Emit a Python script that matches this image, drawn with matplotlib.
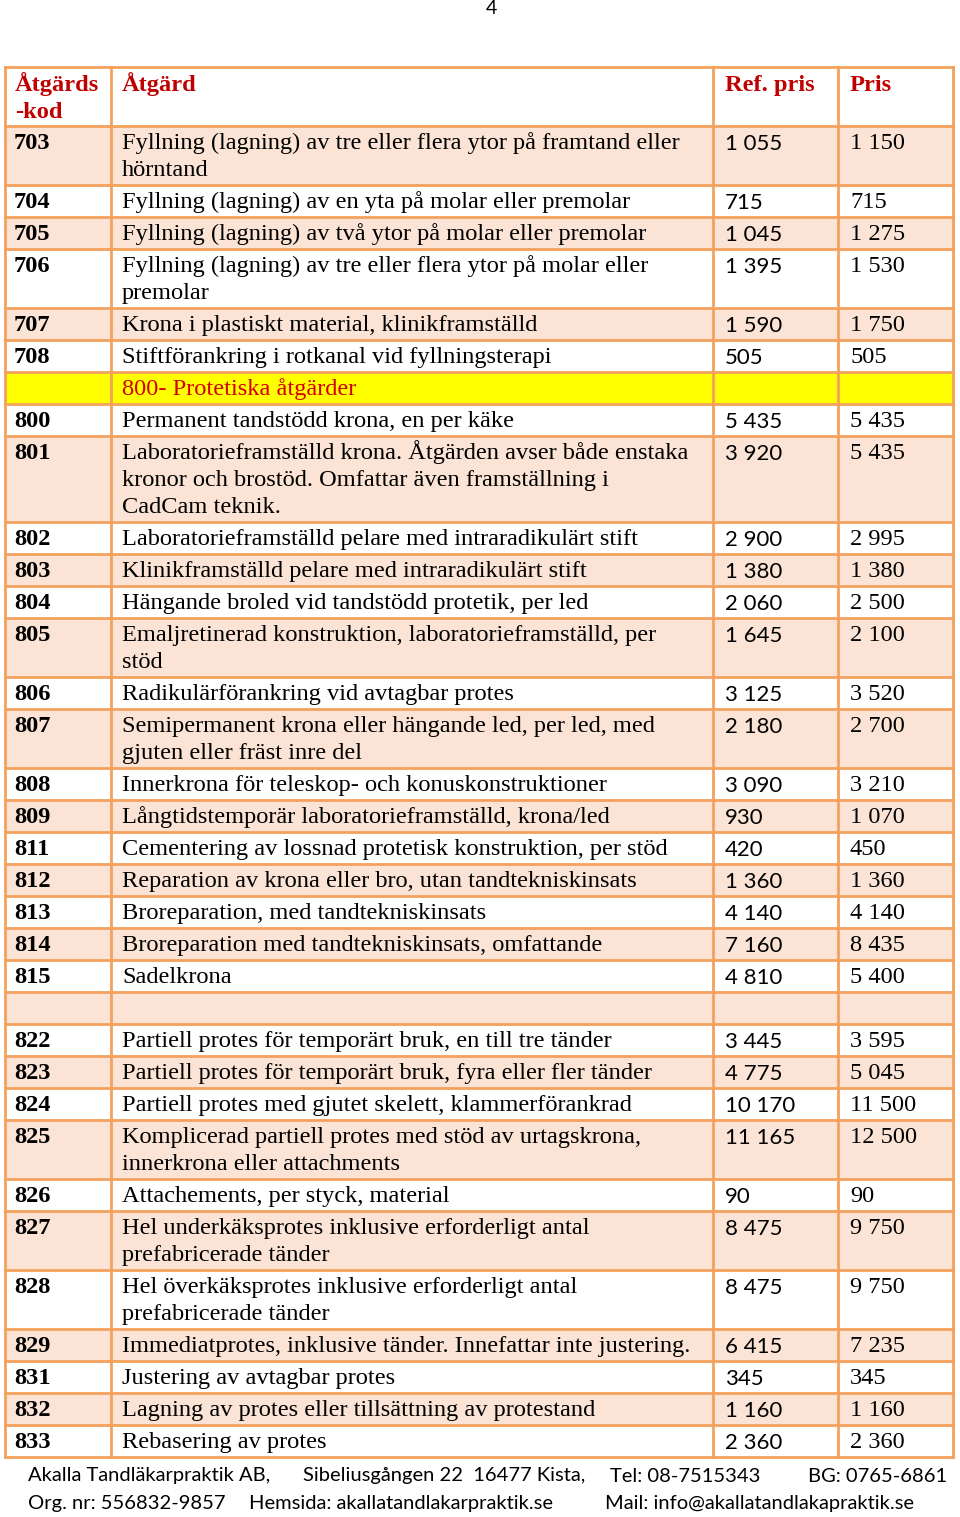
import matplotlib
matplotlib.use("Agg")
import matplotlib.pyplot as plt
from matplotlib.patches import Rectangle

# table content
codes = ["Åtgärds\n-kod", "703", "704", "705", "706", "707", "708", "",
         "800", "801", "802", "803", "804", "805", "806", "807", "808", "809",
         "811", "812", "813", "814", "815", "", "822", "823", "824", "825",
         "826", "827", "828", "829", "831", "832", "833"]
descs = [
    "Åtgärd",
    "Fyllning (lagning) av tre eller flera ytor på framtand eller\nhörntand",
    "Fyllning (lagning) av en yta på molar eller premolar",
    "Fyllning (lagning) av två ytor på molar eller premolar",
    "Fyllning (lagning) av tre eller flera ytor på molar eller\npremolar",
    "Krona i plastiskt material, klinikframställd",
    "Stiftförankring i rotkanal vid fyllningsterapi",
    "800- Protetiska åtgärder",
    "Permanent tandstödd krona, en per käke",
    "Laboratorieframställd krona. Åtgärden avser både enstaka\nkronor och brostöd. Omfattar även framställning i\nCadCam teknik.",
    "Laboratorieframställd pelare med intraradikulärt stift",
    "Klinikframställd pelare med intraradikulärt stift",
    "Hängande broled vid tandstödd protetik, per led",
    "Emaljretinerad konstruktion, laboratorieframställd, per\nstöd",
    "Radikulärförankring vid avtagbar protes",
    "Semipermanent krona eller hängande led, per led, med\ngjuten eller fräst inre del",
    "Innerkrona för teleskop- och konuskonstruktioner",
    "Långtidstemporär laboratorieframställd, krona/led",
    "Cementering av lossnad protetisk konstruktion, per stöd",
    "Reparation av krona eller bro, utan tandtekniskinsats",
    "Broreparation, med tandtekniskinsats",
    "Broreparation med tandtekniskinsats, omfattande",
    "Sadelkrona",
    "",
    "Partiell protes för temporärt bruk, en till tre tänder",
    "Partiell protes för temporärt bruk, fyra eller fler tänder",
    "Partiell protes med gjutet skelett, klammerförankrad",
    "Komplicerad partiell protes med stöd av urtagskrona,\ninnerkrona eller attachments",
    "Attachements, per styck, material",
    "Hel underkäksprotes inklusive erforderligt antal\nprefabricerade tänder",
    "Hel överkäksprotes inklusive erforderligt antal\nprefabricerade tänder",
    "Immediatprotes, inklusive tänder. Innefattar inte justering.",
    "Justering av avtagbar protes",
    "Lagning av protes eller tillsättning av protestand",
    "Rebasering av protes",
]
ref_prices = ["Ref. pris", "1 055", "715", "1 045", "1 395", "1 590", "505", "",
              "5 435", "3 920", "2 900", "1 380", "2 060", "1 645", "3 125",
              "2 180", "3 090", "930", "420", "1 360", "4 140", "7 160",
              "4 810", "", "3 445", "4 775", "10 170", "11 165", "90",
              "8 475", "8 475", "6 415", "345", "1 160", "2 360"]
prices = ["Pris", "1 150", "715", "1 275", "1 530", "1 750", "505", "",
          "5 435", "5 435", "2 995", "1 380", "2 500", "2 100", "3 520",
          "2 700", "3 210", "1 070", "450", "1 360", "4 140", "8 435",
          "5 400", "", "3 595", "5 045", "11 500", "12 500", "90",
          "9 750", "9 750", "7 235", "345", "1 160", "2 360"]
section_row = 7

footer1 = ["Akalla Tandläkarpraktik AB,", "Sibeliusgången 22  16477 Kista,",
           "Tel: 08-7515343", "BG: 0765-6861"]
footer2 = ["Org. nr: 556832-9857", "Hemsida: akallatandlakarpraktik.se",
           "Mail: info@akallatandlakapraktik.se"]

W, H = 960, 1517
fig = plt.figure(figsize=(W / 100, H / 100), dpi=100)
ax = fig.add_axes([0, 0, 1, 1])
ax.set_xlim(0, W)
ax.set_ylim(H, 0)
ax.axis("off")

col_x = [5, 111, 713, 838, 953]
top = 67
line_h = 32
extra_h = 27
border = "#F4A15D"
shade = "#FBE4D5"
red = "#C00000"
serif = "Liberation Serif"
sans = "Lato"
fs = 17.6

y = top
row_tops = []
for i in range(len(codes)):
    n = max(codes[i].count("\n"), descs[i].count("\n")) + 1
    h = line_h + extra_h * (n - 1)
    row_tops.append(y)
    if i == section_row:
        fc = "#FFFF00"
    elif i % 2 == 1:
        fc = shade
    else:
        fc = "white"
    ax.add_patch(Rectangle((col_x[0], y), col_x[-1] - col_x[0], h,
                           facecolor=fc, edgecolor="none", zorder=1))

    def put(x, txt, base_off, **kw):
        for j, ln in enumerate(txt.split("\n")):
            ax.text(x, y + base_off + extra_h * j, ln, va="baseline",
                    ha="left", zorder=3, **kw)

    if i == 0:
        put(col_x[0] + 10, codes[i], 24, family=serif, weight="bold",
            size=fs, color=red)
        put(col_x[1] + 11, descs[i], 24, family=serif, weight="bold",
            size=fs, color=red)
        put(col_x[2] + 12, ref_prices[i], 24, family=serif, weight="bold",
            size=fs, color=red)
        put(col_x[3] + 12, prices[i], 24, family=serif, weight="bold",
            size=fs, color=red)
    elif i == section_row:
        put(col_x[1] + 11, descs[i], 23, family=serif, size=fs, color="#D40000")
    else:
        put(col_x[0] + 9, codes[i], 23, family=serif, weight="bold",
            size=fs, color="black")
        put(col_x[1] + 11, descs[i], 23, family=serif, size=fs, color="black")
        put(col_x[2] + 12, ref_prices[i], 24, family=sans, size=16,
            color="black")
        put(col_x[3] + 12, prices[i], 23, family=serif, size=fs,
            color="black")
    y += h
bottom = y

# grid lines
for yy in row_tops + [bottom]:
    ax.plot([col_x[0], col_x[-1]], [yy, yy], color=border, lw=2, zorder=2,
            solid_capstyle="projecting")
for xx in col_x:
    ax.plot([xx, xx], [top, bottom], color=border, lw=2, zorder=2,
            solid_capstyle="projecting")

# page number
ax.text(491, 8, "4", ha="center", va="center", family=sans, size=14)

# footer
for x, t in zip([28, 303, 610, 808], footer1):
    ax.text(x, 1476, t, ha="left", va="center", family=sans, size=14.5)
for x, t in zip([28, 249, 605], footer2):
    ax.text(x, 1504, t, ha="left", va="center", family=sans, size=14.5)

fig.savefig("out.png", dpi=100)
